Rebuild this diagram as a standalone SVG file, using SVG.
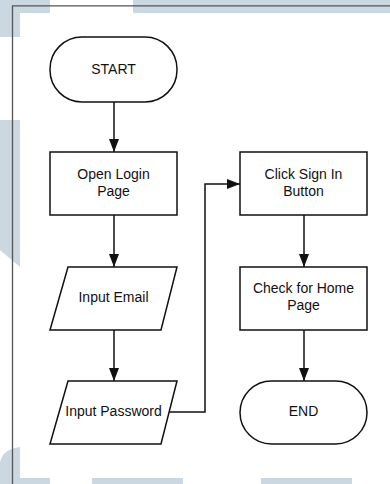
<svg xmlns="http://www.w3.org/2000/svg" width="390" height="484" viewBox="0 0 390 484">
<style>
.wm{fill:#cbd7e1;stroke:none}
.shape{fill:#fff;stroke:#111;stroke-width:1.5}
.lbl{font-family:"Liberation Sans",Arial,sans-serif;font-size:14px;fill:#111;text-anchor:middle}
.conn{fill:none;stroke:#111;stroke-width:1.5}
</style>
<defs>
<marker id="arr" viewBox="0 0 13 10" refX="13" refY="5" markerWidth="13" markerHeight="10" markerUnits="userSpaceOnUse" orient="auto">
<path d="M0,0 L13,5 L0,10 Z" fill="#111"/>
</marker>
</defs>
<rect width="390" height="484" fill="#fff"/>
<g id="watermark">
<polygon class="wm" points="0,0 50,0 50,13 20,13 20,37 0,37"/>
<rect class="wm" x="133" y="0" width="257" height="13"/>
<polygon class="wm" points="0,120 20,120 20,267 0,250"/>
<path class="wm" d="M0,484 L0,462 Q3,449 20,447 L20,478 L50,478 L50,484 Z"/>
<rect class="wm" x="92" y="478" width="91" height="6"/>
<rect class="wm" x="261" y="478" width="91" height="6"/>
</g>
<g id="frame">
<path d="M12.5,484 L12.5,5.8 L390,5.8" fill="none" stroke="#555" stroke-width="1.3"/>
</g>
<g id="connectors">
<line class="conn" x1="114" y1="102" x2="114" y2="152" marker-end="url(#arr)"/>
<line class="conn" x1="114" y1="215" x2="114" y2="267" marker-end="url(#arr)"/>
<line class="conn" x1="114" y1="330" x2="114" y2="381" marker-end="url(#arr)"/>
<polyline class="conn" points="169,412 205,412 205,184 240,184" marker-end="url(#arr)"/>
<line class="conn" x1="304" y1="215" x2="304" y2="267" marker-end="url(#arr)"/>
<line class="conn" x1="304" y1="330" x2="304" y2="381" marker-end="url(#arr)"/>
</g>
<g id="start">
<rect class="shape" x="50" y="37" width="127" height="65" rx="32" ry="32"/>
<text class="lbl" x="113.5" y="74">START</text>
</g>
<g id="open-login">
<rect class="shape" x="50" y="152" width="127" height="63"/>
<text class="lbl" x="113.5" y="179">Open Login</text>
<text class="lbl" x="113.5" y="196">Page</text>
</g>
<g id="input-email">
<polygon class="shape" points="68,267 177,267 161,330 50,330"/>
<text class="lbl" x="113.5" y="302">Input Email</text>
</g>
<g id="input-password">
<polygon class="shape" points="68,381 177,381 161,444 50,444"/>
<text class="lbl" x="113.5" y="416">Input Password</text>
</g>
<g id="click-sign-in">
<rect class="shape" x="240" y="152" width="127" height="63"/>
<text class="lbl" x="303.5" y="179">Click Sign In</text>
<text class="lbl" x="303.5" y="196">Button</text>
</g>
<g id="check-home">
<rect class="shape" x="240" y="267" width="127" height="63"/>
<text class="lbl" x="303.5" y="293">Check for Home</text>
<text class="lbl" x="303.5" y="310">Page</text>
</g>
<g id="end">
<rect class="shape" x="240" y="381" width="127" height="63" rx="31.5" ry="31.5"/>
<text class="lbl" x="303.5" y="416">END</text>
</g>
</svg>
